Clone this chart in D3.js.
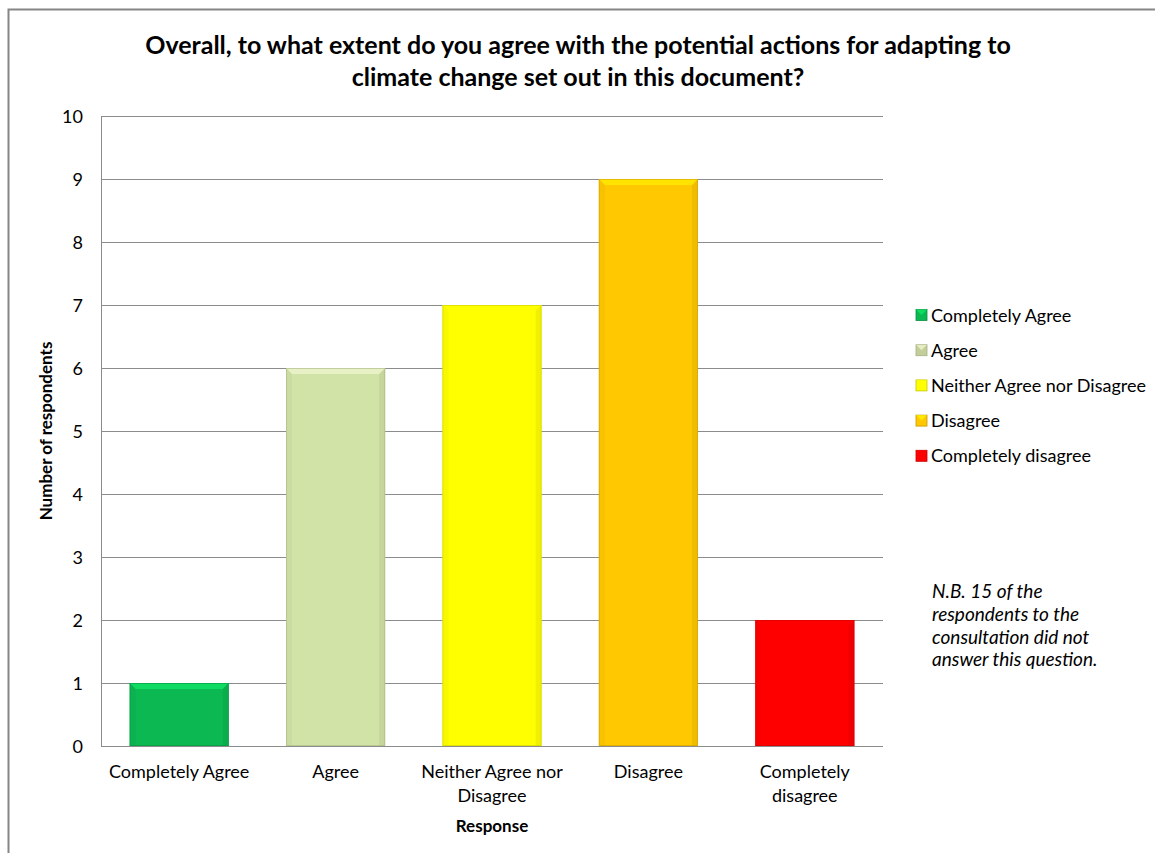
<!DOCTYPE html>
<html><head><meta charset="utf-8">
<script src="https://cdn.jsdelivr.net/npm/d3@7"></script>
<style>body{margin:0;background:#fff}svg{display:block}text{font-family:Lato,"Open Sans",sans-serif;fill:#000}</style>
</head><body><svg id="c" width="1155" height="853"></svg>
<script>
const categories = ["Completely Agree","Agree","Neither Agree nor Disagree","Disagree","Completely disagree"];
const categoryLines = [["Completely Agree"],["Agree"],["Neither Agree nor","Disagree"],["Disagree"],["Completely","disagree"]];
const values = [1,6,7,9,2];
const colors = ["#0cb852","#d1e3a6","#ffff00","#ffc800","#ff0000"];
const yTicks = [0,1,2,3,4,5,6,7,8,9,10];
const titleLines = ["Overall, to what extent do you agree with the potential actions for adapting to","climate change set out in this document?"];
const noteLines = ["N.B. 15 of the","respondents to the","consultation did not","answer this question."];

const svg = d3.select("#c");
svg.append("rect").attr("x",8.5).attr("y",9.5).attr("width",1160).attr("height",860)
  .attr("fill","#fff").attr("stroke","#868686").attr("stroke-width",2);

const m = {l:101, r:883, t:116, b:746};
const x = d3.scaleBand().domain(categories).range([m.l,m.r]).paddingInner(0.366).paddingOuter(0.183);
const y = d3.scaleLinear().domain([0,10]).range([m.b,m.t]);

// gridlines
svg.append("g").selectAll("line").data(yTicks).join("line")
  .attr("x1",m.l).attr("x2",m.r).attr("y1",d=>Math.round(y(d))+0.5).attr("y2",d=>Math.round(y(d))+0.5)
  .attr("stroke","#8c8c8c").attr("stroke-width",1);
svg.append("line").attr("x1",m.l+0.5).attr("x2",m.l+0.5).attr("y1",m.t).attr("y2",m.b+0.5).attr("stroke","#8c8c8c");

// y tick labels
svg.append("g").selectAll("text").data(yTicks).join("text")
  .attr("x",83).attr("y",d=>y(d)+6.5).attr("text-anchor","end").attr("font-size",18).attr("fill","#1a1a1a").text(d=>d);

// bars with bevel
const bars = svg.append("g");
const bev = 6;
values.forEach((v,i)=>{
  const c = categories[i];
  const x0 = x(c), w = x.bandwidth(), y0 = y(v), h = y(0)-y(v);
  const g = bars.append("g");
  g.append("rect").attr("x",x0).attr("y",y0).attr("width",w).attr("height",h).attr("fill",colors[i]);
  const dark = d3.color(colors[i]).darker(0.6);
  const light = d3.color(colors[i]).brighter(0.9);
  g.append("path").attr("d",`M${x0},${y0}L${x0+w},${y0}L${x0+w-bev},${y0+bev}L${x0+bev},${y0+bev}Z`).attr("fill",light).attr("opacity",0.5);
  g.append("path").attr("d",`M${x0},${y0}L${x0+bev},${y0+bev}L${x0+bev},${y0+h}L${x0},${y0+h}Z`).attr("fill",dark).attr("opacity",0.15);
  g.append("path").attr("d",`M${x0+w},${y0}L${x0+w-bev},${y0+bev}L${x0+w-bev},${y0+h}L${x0+w},${y0+h}Z`).attr("fill",dark).attr("opacity",0.3);
  g.append("rect").attr("x",x0+0.5).attr("y",y0+0.5).attr("width",w-1).attr("height",h-1)
    .attr("fill","none").attr("stroke",dark).attr("stroke-opacity",0.6);
});

// x labels
const xl = svg.append("g");
categories.forEach((c,i)=>{
  const cx = x(c)+x.bandwidth()/2;
  const t = xl.append("text").attr("x",cx).attr("y",778).attr("text-anchor","middle").attr("font-size",18).attr("fill","#1a1a1a");
  categoryLines[i].forEach((ln,j)=>t.append("tspan").attr("x",cx).attr("dy",j?24:0).text(ln));
});

// axis titles
svg.append("text").attr("x",(m.l+m.r)/2).attr("y",832).attr("text-anchor","middle").attr("font-size",17).attr("font-weight","bold").text("Response");
svg.append("text").attr("transform","translate(52,431) rotate(-90)").attr("text-anchor","middle").attr("font-size",17).attr("font-weight","bold").text("Number of respondents");

// title
const tt = svg.append("text").attr("text-anchor","middle").attr("font-size",25).attr("font-weight","bold");
titleLines.forEach((ln,j)=>tt.append("tspan").attr("x",578).attr("y",54+j*32).text(ln));

// legend
const lg = svg.append("g");
categories.forEach((c,i)=>{
  const yy = 315 + i*35.2;
  const col = d3.color(colors[i]);
  lg.append("rect").attr("x",916).attr("y",yy-5.5).attr("width",11).attr("height",11).attr("fill",i===1?"#c3cf9a":colors[i]).attr("stroke",col.darker(0.7)).attr("stroke-width",0.8);
  lg.append("path").attr("d",`M916,${yy-5.5}L927,${yy-5.5}L921.5,${yy}Z`).attr("fill",col.brighter(0.8)).attr("opacity",0.6);
  lg.append("text").attr("x",931).attr("y",yy+6.5).attr("font-size",18).attr("fill","#1a1a1a").text(c);
});

// note
const nt = svg.append("text").attr("font-size",19).attr("font-style","italic").attr("fill","#222");
noteLines.forEach((ln,j)=>nt.append("tspan").attr("x",932).attr("y",598+j*22.8).text(ln));
</script></body></html>
